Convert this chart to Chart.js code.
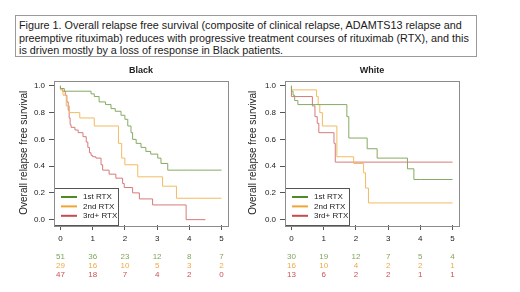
<!DOCTYPE html>
<html>
<head>
<meta charset="utf-8">
<script src="https://cdn.jsdelivr.net/npm/chart.js@4"></script>
<style>
	body { margin: 0; background: #fff; width: 520px; height: 292px; position: relative; overflow: hidden; }
	#caption {
		position: absolute; left: 15px; top: 15px; width: 462px; height: 42px; box-sizing: border-box;
		border: 1px solid #9a9a9a; padding: 3px 0 0 3px; white-space: nowrap;
		font: 10.8px/12.7px 'Liberation Sans', Arial, sans-serif; color: #1a1a1a;
	}
	canvas { position: absolute; top: 60px; }
	#chartBlack { left: 0; }
	#chartWhite { left: 240px; }
</style>
</head>
<body>
<div id="caption">Figure 1. Overall relapse free survival (composite of clinical relapse, ADAMTS13 relapse and<br>preemptive rituximab) reduces with progressive treatment courses of rituximab (RTX), and this<br>is driven mostly by a loss of response in Black patients.</div>
<canvas id="chartBlack" width="240" height="232"></canvas>
<canvas id="chartWhite" width="280" height="232"></canvas>
<script>
// Axis ticks and group labels
const timeTicks = [0, 1, 2, 3, 4, 5];
const survTicks = [0, 0.2, 0.4, 0.6, 0.8, 1.0];
const groupLabels = ['1st RTX', '2nd RTX', '3rd+ RTX'];

// Black patients - step points (time in years, survival)
const blackTime1 = [0, 0.12, 0.95, 1.05, 1.2, 1.4, 1.57, 1.7, 1.88, 2.0, 2.09, 2.19, 2.24, 2.35, 2.5, 2.65, 2.8, 3.02, 3.12, 3.33, 3.95, 5.0];
const blackSurv1 = [1.0, 0.98, 0.96, 0.94, 0.92, 0.88, 0.86, 0.83, 0.81, 0.78, 0.75, 0.70, 0.65, 0.60, 0.57, 0.54, 0.51, 0.49, 0.46, 0.42, 0.37, 0.37];
const blackTime2 = [0, 0.08, 0.18, 0.28, 0.6, 1.05, 1.8, 1.9, 2.0, 2.4, 3.17, 3.6, 4.2, 5.0];
const blackSurv2 = [1.0, 0.97, 0.93, 0.85, 0.80, 0.76, 0.70, 0.57, 0.46, 0.41, 0.32, 0.25, 0.16, 0.16];
const blackTime3 = [0, 0.06, 0.15, 0.2, 0.24, 0.27, 0.3, 0.33, 0.45, 0.55, 0.7, 0.8, 0.85, 0.9, 0.95, 1.0, 1.1, 1.26, 1.31, 1.51, 1.72, 1.93, 1.98, 2.24, 2.45, 2.86, 3.9, 4.5];
const blackSurv3 = [1.0, 0.98, 0.96, 0.93, 0.88, 0.82, 0.76, 0.71, 0.69, 0.67, 0.65, 0.62, 0.58, 0.54, 0.50, 0.48, 0.47, 0.46, 0.41, 0.37, 0.34, 0.31, 0.27, 0.24, 0.20, 0.155, 0.11, 0.0];

// White patients - step points
const whiteTime1 = [0, 0.05, 0.1, 0.2, 1.72, 1.78, 2.35, 2.66, 3.6, 3.8, 4.0, 5.0];
const whiteSurv1 = [1.0, 0.96, 0.93, 0.89, 0.86, 0.77, 0.61, 0.53, 0.46, 0.38, 0.30, 0.30];
const whiteTime2 = [0, 0.78, 0.83, 0.88, 0.96, 1.41, 1.93, 2.24, 2.3, 2.39, 4.89, 5.0];
const whiteSurv2 = [1.0, 0.97, 0.92, 0.86, 0.80, 0.70, 0.47, 0.42, 0.35, 0.236, 0.125, 0.125];
const whiteTime3 = [0, 0.65, 0.73, 0.8, 0.85, 1.32, 1.36, 1.42, 5.0];
const whiteSurv3 = [1.0, 0.92, 0.85, 0.77, 0.72, 0.65, 0.57, 0.43, 0.43];

// Numbers at risk at each time tick
const blackAtRisk1 = [51, 36, 23, 12, 8, 7];
const blackAtRisk2 = [29, 16, 10, 5, 3, 2];
const blackAtRisk3 = [47, 18, 7, 4, 2, 0];
const whiteAtRisk1 = [30, 19, 12, 7, 5, 4];
const whiteAtRisk2 = [16, 10, 4, 2, 2, 1];
const whiteAtRisk3 = [13, 6, 2, 2, 1, 1];

(() => {
	'use strict'

	const fontFamily = "'Liberation Sans', Arial, sans-serif";
	const lineColors = ['#86aa62', '#f2bb62', '#d67a7a'];
	const legendColors = ['#4f8a22', '#f0a530', '#c94a4a'];
	const riskColors = ['#7fa558', '#f0aa48', '#cc5252'];

	function toPoints(times, surv) {
		return times.map((t, i) => ({ x: t, y: surv[i] }));
	}

	/******************** Plugins Start ********************/
	// box round the plot region, panel title, legend and the at-risk table
	const panelPlugin = {
		id: 'panel',
		afterDatasetsDraw(chart, args, opts) {
			const { ctx, chartArea: a, scales } = chart;
			ctx.save();
			// legend
			const lx = a.left, ly = a.bottom - 37;
			ctx.fillStyle = '#fff';
			ctx.fillRect(lx, ly, 64, 37);
			ctx.strokeStyle = '#555';
			ctx.lineWidth = 1;
			ctx.strokeRect(lx + 0.5, ly + 0.5, 64, 37);
			ctx.font = '8px ' + fontFamily;
			ctx.textBaseline = 'middle';
			chart.data.datasets.forEach((ds, i) => {
				const y = ly + 9 + i * 9.4;
				ctx.strokeStyle = legendColors[i];
				ctx.lineWidth = 2;
				ctx.beginPath();
				ctx.moveTo(lx + 7, y);
				ctx.lineTo(lx + 23, y);
				ctx.stroke();
				ctx.fillStyle = '#222';
				ctx.textAlign = 'left';
				ctx.fillText(ds.label, lx + 29, y);
			});
			// plot box
			ctx.strokeStyle = '#8c8c8c';
			ctx.lineWidth = 1;
			ctx.strokeRect(Math.round(a.left) + 0.5, Math.round(a.top) + 0.5, Math.round(a.width), Math.round(a.height));
			// title
			ctx.fillStyle = '#222';
			ctx.font = 'bold 9px ' + fontFamily;
			ctx.textAlign = 'center';
			ctx.fillText(opts.title, (a.left + a.right) / 2, a.top - 10);
			// numbers at risk
			ctx.font = '8px ' + fontFamily;
			opts.atRisk.forEach((row, i) => {
				ctx.fillStyle = riskColors[i];
				row.forEach((n, k) => {
					ctx.fillText(String(n), scales.x.getPixelForValue(timeTicks[k]), a.bottom + 32 + i * 9);
				});
			});
			ctx.restore();
		}
	};
	/******************** Plugins End ********************/

	function makeChart(canvasId, title, series, atRisk, pad, yWidth, yTitlePad) {
		const datasets = series.map((s, i) => ({
			label: groupLabels[i],
			data: toPoints(s[0], s[1]),
			borderColor: lineColors[i],
			borderWidth: 1,
			pointRadius: 0,
			stepped: 'after',
			fill: false
		}));
		const tickFont = { family: fontFamily, size: 8 };
		return new Chart(document.getElementById(canvasId), {
			type: 'line',
			data: { datasets },
			options: {
				responsive: false,
				animation: false,
				devicePixelRatio: 1,
				layout: { padding: pad },
				plugins: {
					legend: { display: false },
					tooltip: { enabled: false },
					title: { display: false },
					panel: { title, atRisk }
				},
				scales: {
					x: {
						type: 'linear',
						bounds: 'data',
						min: -0.2,
						max: 5.2,
						afterBuildTicks: (s) => { s.ticks = timeTicks.map((v) => ({ value: v })); },
						afterFit: (s) => { s.height = 67; },
						grid: { drawOnChartArea: false, tickLength: 5, color: '#555' },
						border: { display: false },
						ticks: { font: tickFont, color: '#222', padding: 4, maxRotation: 0, callback: (v) => String(v) }
					},
					y: {
						type: 'linear',
						bounds: 'data',
						min: -0.04,
						max: 1.04,
						afterBuildTicks: (s) => { s.ticks = survTicks.map((v) => ({ value: v })); },
						afterFit: (s) => { s.width = yWidth; },
						grid: { drawOnChartArea: false, tickLength: 5, color: '#555' },
						border: { display: false },
						ticks: { font: tickFont, color: '#222', padding: 4, callback: (v) => v.toFixed(1) },
						title: {
							display: true,
							text: 'Overall relapse free survival',
							font: { family: fontFamily, size: 10 },
							color: '#222',
							padding: { top: yTitlePad, bottom: 0 }
						}
					}
				}
			},
			plugins: [panelPlugin]
		});
	}

	/******************** Black Start ********************/
	makeChart('chartBlack', 'Black',
		[[blackTime1, blackSurv1], [blackTime2, blackSurv2], [blackTime3, blackSurv3]],
		[blackAtRisk1, blackAtRisk2, blackAtRisk3],
		{ left: 0, right: 12, top: 20.5, bottom: 0 }, 54, 18);
	/********************* Black End *********************/

	/******************** White Start ********************/
	makeChart('chartWhite', 'White',
		[[whiteTime1, whiteSurv1], [whiteTime2, whiteSurv2], [whiteTime3, whiteSurv3]],
		[whiteAtRisk1, whiteAtRisk2, whiteAtRisk3],
		{ left: 0, right: 61, top: 20.5, bottom: 0 }, 45, 7);
	/********************* White End *********************/
})()
</script>
</body>
</html>
